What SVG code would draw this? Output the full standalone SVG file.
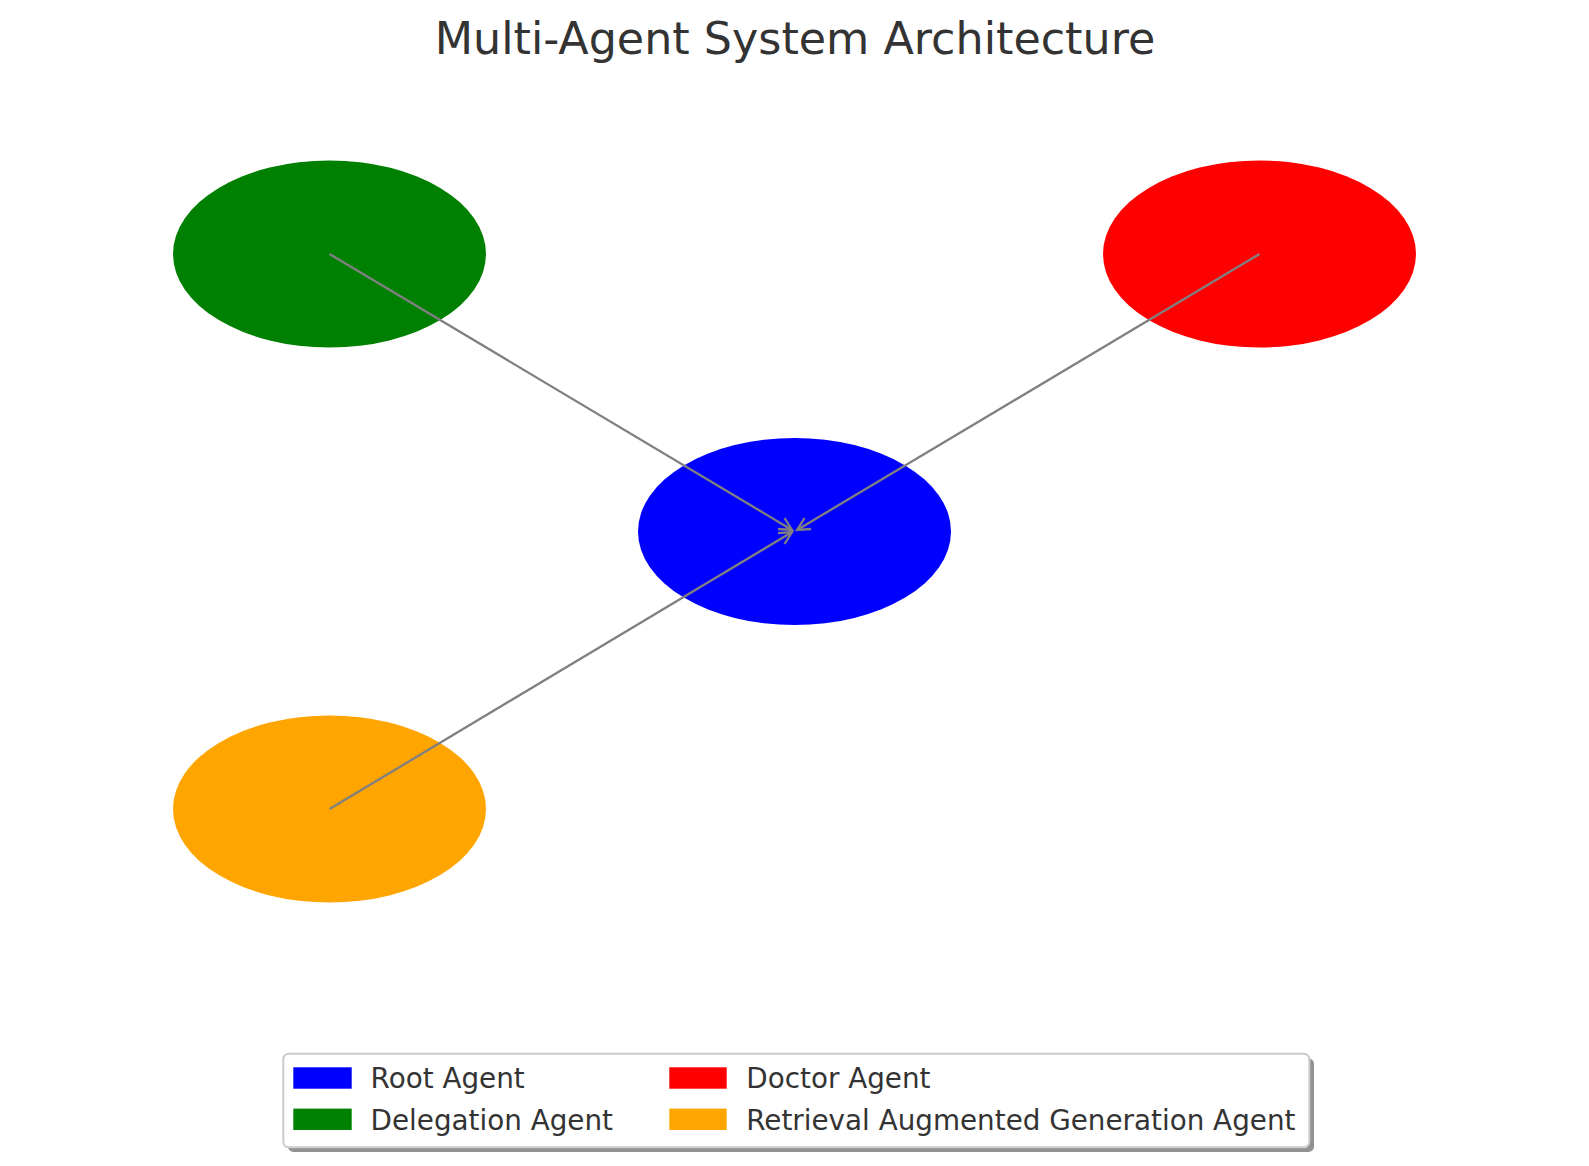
<svg xmlns="http://www.w3.org/2000/svg" width="1589" height="1166" viewBox="0 0 1589 1166">
<style>
  .t { font-family: "DejaVu Sans", "Liberation Sans", sans-serif; fill: #333333; }
  .title { font-size: 44.4px; text-anchor: middle; }
  .leg { font-size: 27.8px; }
  .edge { stroke: #808080; stroke-width: 2.3; fill: none; marker-end: url(#arr); }
  .node { stroke: none; }
</style>
<defs>
  <marker id="arr" markerUnits="userSpaceOnUse" viewBox="-16 -10 20 20" refX="0" refY="0" markerWidth="20" markerHeight="20" orient="auto" overflow="visible">
    <path d="M-12.5,-6.4 L0,0 L-12.5,6.4" fill="none" stroke="#808080" stroke-width="2.3" stroke-linejoin="miter"/>
  </marker>
</defs>
<rect x="0" y="0" width="1589" height="1166" fill="#ffffff"/>
<text class="t title" x="795" y="53.5">Multi-Agent System Architecture</text>

<g id="node-delegation"><ellipse class="node" cx="329.5" cy="254" rx="156.5" ry="93.5" fill="#008000"/></g>
<g id="node-doctor"><ellipse class="node" cx="1259.5" cy="254" rx="156.5" ry="93.5" fill="#ff0000"/></g>
<g id="node-root"><ellipse class="node" cx="794.5" cy="531.5" rx="156.5" ry="93.5" fill="#0000ff"/></g>
<g id="node-rag"><ellipse class="node" cx="329.5" cy="809" rx="156.5" ry="93.5" fill="#ffa500"/></g>

<g id="edges">
  <line class="edge" x1="329.5" y1="254" x2="792" y2="529.9"/>
  <line class="edge" x1="1259.5" y1="254" x2="797.1" y2="529.9"/>
  <line class="edge" x1="329.5" y1="809" x2="792" y2="532.1"/>
</g>

<g id="legend">
  <rect x="288" y="1058.3" width="1026" height="93.6" rx="5.5" fill="#7f7f7f" opacity="0.85"/>
  <rect x="283.3" y="1053.7" width="1026" height="93.6" rx="5.5" fill="#ffffff" stroke="#cccccc" stroke-width="2"/>
  <rect x="293.3" y="1067.3" width="58.4" height="21.4" fill="#0000ff"/>
  <text class="t leg" x="370.6" y="1088.3">Root Agent</text>
  <rect x="293.3" y="1108.6" width="58.4" height="21.4" fill="#008000"/>
  <text class="t leg" x="370.6" y="1129.6">Delegation Agent</text>
  <rect x="669.3" y="1067.3" width="57.4" height="21.4" fill="#ff0000"/>
  <text class="t leg" x="746.3" y="1088.3">Doctor Agent</text>
  <rect x="669.3" y="1108.6" width="57.4" height="21.4" fill="#ffa500"/>
  <text class="t leg" x="746.3" y="1129.6">Retrieval Augmented Generation Agent</text>
</g>
</svg>
